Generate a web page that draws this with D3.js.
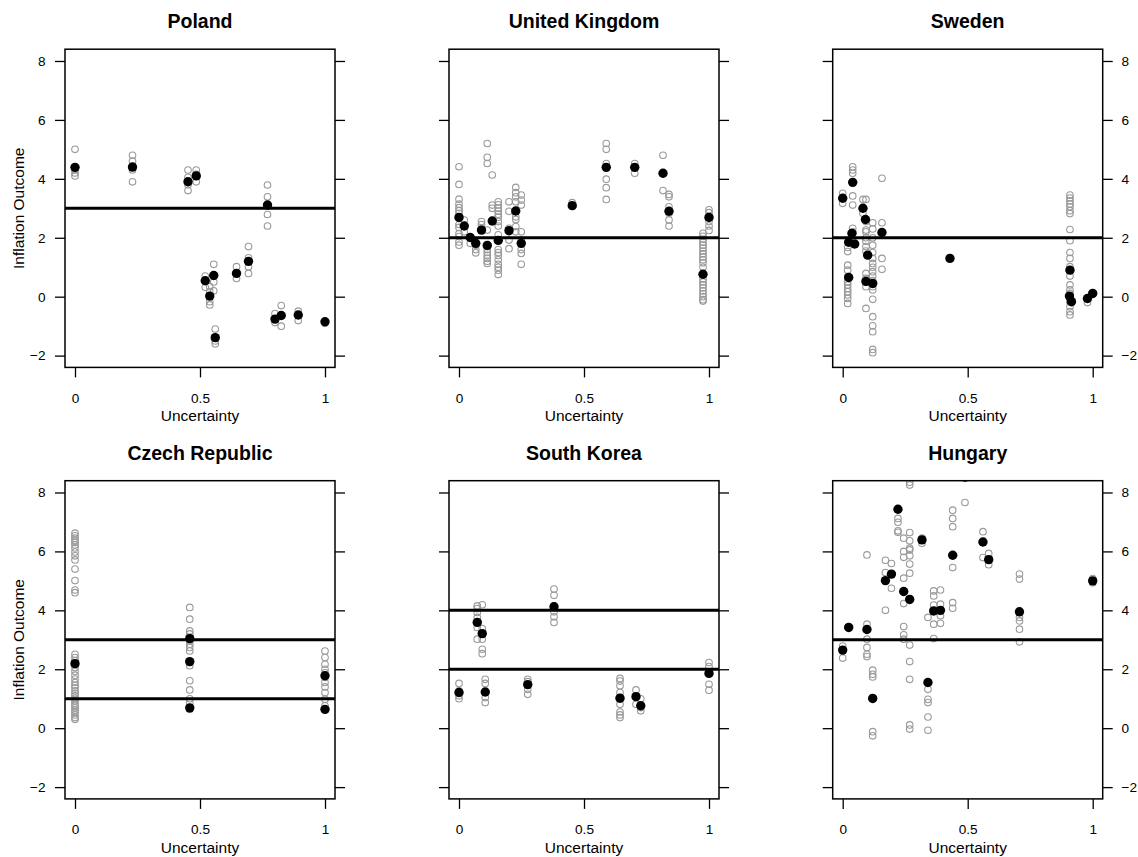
<!DOCTYPE html>
<html><head><meta charset="utf-8">
<script src="https://cdn.jsdelivr.net/npm/d3@7"></script>
<style>
body{margin:0;background:#fff}
svg{display:block}
text{font-family:"Liberation Sans",Arial,Helvetica,sans-serif;fill:#000}
</style></head>
<body><svg id="chart" width="1138" height="857"></svg>
<script>
// ---------------- data ----------------
const countries = ["Poland", "United Kingdom", "Sweden", "Czech Republic", "South Korea", "Hungary"];
const xTicks = [0, 0.5, 1];
const yTicks = [-2, 0, 2, 4, 6, 8];
const xLabel = "Uncertainty";
const yLabel = "Inflation Outcome";

// grey open circles: [uncertainty, [inflation values...]]
const polandGrey = [[0,[5.0,4.3,4.2,4.1]],[0.23,[4.8,4.6,4.3,3.9]],[0.452,[4.3,4.05,3.8,3.6]],[0.485,[4.3,4.15,3.9]],
  [0.521,[0.7,0.32]],[0.539,[0.34,0.17,-0.17,-0.28]],[0.555,[1.1,0.5,0.2]],[0.561,[-1.1,-1.5,-1.6]],
  [0.646,[1.02,0.62]],[0.694,[1.7,1.32,1.02,0.79]],[0.77,[3.79,3.39,2.79,2.4]],[0.8,[-0.57,-0.88]],
  [0.825,[-0.3,-1.0]],[0.893,[-0.49,-0.81]],[1,[-0.9]]];
const polandBlack = [[0,4.39],[0.23,4.4],[0.452,3.9],[0.485,4.1],[0.521,0.54],[0.539,0.02],[0.555,0.72],[0.561,-1.39],
  [0.646,0.79],[0.694,1.2],[0.77,3.11],[0.8,-0.76],[0.825,-0.64],[0.893,-0.62],[1,-0.85]];
const polandTargets = [3];

const ukGrey = [[0,[4.41,3.81,3.31,3.14,3.02,2.92,2.83,2.45,2.35,2.14,2.04,1.86,1.75]],[0.021,[2.6,2.2]],[0.045,[1.98,1.81]],
  [0.067,[1.75,1.6,1.49]],[0.09,[2.55,2.45,2.3]],[0.113,[5.2,4.73,4.52,2.26,1.7,1.6,1.5,1.4,1.3,1.2,1.13]],[0.133,[4.13,3.11,3.0]],
  [0.157,[3.22,3.12,3.0,2.9,2.8,2.7,2.55,2.4,2.1,1.6,1.5,1.4,1.25,1.1,1.0,0.9,0.75]],[0.2,[3.22,2.9,2.32,1.92,1.63]],
  [0.227,[3.71,3.53,3.39,3.22,2.71,2.62,2.38,2.2]],[0.249,[3.45,3.28,3.11,2.2,1.92,1.6,1.47,1.1]],[0.453,[3.19]],
  [0.589,[5.2,5.0,4.52,4.41,3.99,3.7,3.3]],[0.703,[4.52,4.19]],[0.816,[4.8,3.6]],[0.84,[3.47,3.39,3.05,2.83,2.6,2.4]],
  [0.976,[2.15,2.05,1.95,1.85,1.75,1.65,1.55,1.45,1.35,1.25,1.15,1.0,0.6,0.5,0.4,0.3,0.2,0.1,0.0,-0.1,-0.15]],
  [1,[2.95,2.85,2.7,2.55,2.4,2.25]]];
const ukBlack = [[0,2.69],[0.021,2.4],[0.045,2.01],[0.067,1.81],[0.09,2.26],[0.113,1.74],[0.133,2.57],[0.157,1.91],[0.2,2.24],
  [0.227,2.91],[0.249,1.81],[0.453,3.09],[0.589,4.39],[0.703,4.39],[0.816,4.19],[0.84,2.9],[0.976,0.76],[1,2.69]];
const ukTargets = [2];

const swedenGrey = [[0,[3.51,3.17]],[0.02,[1.67,1.53,1.07,0.9,0.68,0.51,0.4,0.28,0.17,0.06,-0.06,-0.23]],
  [0.04,[4.41,4.3,4.19,3.42,3.11,2.32,2.2]],[0.081,[3.3,2.83]],[0.093,[3.3,2.55,2.26,2.2,2.0,1.88,1.7,1.55,0.79,0.62,0.5,0.34,-0.4]],
  [0.12,[2.51,2.3,2.0,1.75,1.5,1.3,1.13,1.0,0.85,0.7,0.55,0.34,0.23,-0.09,-0.68,-0.99,-1.19,-1.79,-1.9]],
  [0.157,[4.02,2.51,1.3,0.93]],
  [0.909,[3.45,3.35,3.25,3.15,3.05,2.92,2.82,2.28,1.9,1.5,1.3,1.02,0.7,0.4,0.23,0.11,-0.06,-0.17,-0.34,-0.51,-0.62]],
  [0.979,[-0.2]],[1,[0.1]]];
const swedenBlack = [[0,3.34],[0.04,3.88],[0.081,3.0],[0.091,2.62],[0.037,2.15],[0.024,1.85],[0.048,1.79],[0.1,1.41],[0.157,2.18],
  [0.024,0.65],[0.093,0.52],[0.12,0.45],[0.429,1.3],[0.907,0.02],[0.915,-0.17],[0.909,0.9],[0.979,-0.06],[1,0.11]];
const swedenTargets = [2];

const czechGrey = [[0,[6.62,6.53,6.45,6.37,6.3,6.22,6.12,5.98,5.85,5.71,5.4,5.01,4.69,4.6,2.51,2.4,2.29,2.17,2.06,1.93,1.8,1.67,1.55,
    1.45,1.37,1.27,1.18,1.1,1.02,0.93,0.85,0.77,0.69,0.61,0.53,0.45,0.36,0.3]],
  [0.459,[4.1,3.7,3.3,3.2,3.08,2.96,2.85,2.74,2.62,2.12,1.61,1.3,1.0,0.87,0.64]],
  [1,[2.62,2.4,2.17,2.0,1.88,1.72,1.55,1.4,1.21,0.98,0.76,0.64]]];
const czechBlack = [[0,2.19],[0.459,3.04],[0.459,2.26],[0.459,0.69],[1,1.78],[1,0.64]];
const czechTargets = [3, 1];

const koreaGrey = [[0,[1.52,1.27,1.1,1.0]],[0.073,[4.15,4.06,3.93,3.76,3.42,3.02]],[0.093,[4.19,3.38,3.19,3.02,2.68,2.53]],
  [0.105,[1.66,1.52,1.04,0.87]],[0.275,[1.66,1.58,1.32,1.15]],[0.38,[4.72,4.51,4.15,3.95,3.78,3.59]],
  [0.644,[1.69,1.6,1.44,1.21,0.98,0.81,0.55,0.45,0.36]],[0.708,[1.3,0.81]],[0.727,[1.0,0.7,0.59]],[1,[2.23,2.09,1.49,1.29]]];
const koreaBlack = [[0,1.21],[0.073,3.59],[0.093,3.21],[0.105,1.23],[0.275,1.48],[0.38,4.12],[0.644,1.02],[0.708,1.07],[0.727,0.76],[1,1.86]];
const koreaTargets = [4, 2];

const hungaryGrey = [[0,[2.79,2.38]],[0.097,[5.88,3.53,3.02,2.74,2.51,2.43]],[0.12,[1.97,1.83,1.74,-0.12,-0.26]],
  [0.171,[5.7,5.28,4.0]],[0.195,[5.59,4.75]],[0.221,[8.55,7.12,6.99,6.7,6.65]],[0.244,[6.45,6.0,5.8,5.09,4.23,3.45,3.17,3.02]],
  [0.268,[8.35,8.25,6.64,6.36,6.11,6.05,5.85,5.57,5.26,2.82,2.26,1.66,0.11,-0.03]],[0.317,[6.45,6.28]],
  [0.341,[3.76,1.32,0.98,0.87,0.38,-0.07]],[0.364,[4.66,4.49,4.18,3.53,3.04]],[0.391,[4.69,4.21,3.82,3.56]],
  [0.44,[7.4,7.12,6.84,5.45,4.26,4.07]],[0.489,[7.66]],[0.561,[6.67,5.79]],[0.584,[5.93,5.55]],
  [0.707,[5.23,5.06,3.76,3.64,3.36,2.93]],[1,[5.08,4.94]]];
const hungaryBlack = [[0.024,3.42],[0,2.65],[0.097,3.35],[0.12,1.01],[0.171,5.01],[0.195,5.23],[0.221,7.43],[0.244,4.64],[0.268,4.37],
  [0.317,6.39],[0.341,1.55],[0.364,3.98],[0.391,4.0],[0.44,5.87],[0.561,6.32],[0.584,5.72],[0.707,3.95],[1,5.0],[0.489,8.52]];
const hungaryTargets = [3];

const greySets = [polandGrey, ukGrey, swedenGrey, czechGrey, koreaGrey, hungaryGrey];
const blackSets = [polandBlack, ukBlack, swedenBlack, czechBlack, koreaBlack, hungaryBlack];
const targetSets = [polandTargets, ukTargets, swedenTargets, czechTargets, koreaTargets, hungaryTargets];

// ---------------- layout ----------------
const colLeft = [65, 449, 832.7];
const rowTop = [49.2, 480.7];
const boxW = 270, boxH = 318.2;
const svg = d3.select("#chart");
const fmtY = d => d < 0 ? "\u2212" + (-d) : String(d);

countries.forEach((name, i) => {
  const col = i % 3, row = Math.floor(i / 3);
  const L = colLeft[col], T = rowTop[row];
  const x = d3.scaleLinear().domain([-0.04, 1.04]).range([L, L + boxW]);
  const y = d3.scaleLinear().domain([-2.4, 8.4]).range([T + boxH, T]);
  const g = svg.append("g");

  const clipId = "clip" + i;
  svg.append("clipPath").attr("id", clipId).append("rect")
    .attr("x", L).attr("y", T).attr("width", boxW).attr("height", boxH);
  const plot = g.append("g").attr("clip-path", `url(#${clipId})`);

  const grey = greySets[i].flatMap(([u, ys]) => ys.map(v => [u, v]));
  plot.selectAll("circle.g").data(grey).join("circle")
    .attr("cx", d => x(d[0])).attr("cy", d => y(d[1])).attr("r", 3.3)
    .attr("fill", "none").attr("stroke", "#9a9a9a").attr("stroke-width", 1.1);

  plot.selectAll("line.t").data(targetSets[i]).join("line")
    .attr("x1", L).attr("x2", L + boxW).attr("y1", d => y(d)).attr("y2", d => y(d))
    .attr("stroke", "#000").attr("stroke-width", 3);

  plot.selectAll("circle.b").data(blackSets[i]).join("circle")
    .attr("cx", d => x(d[0])).attr("cy", d => y(d[1])).attr("r", 4.7).attr("fill", "#000");

  // axes
  const ax = (axis, tx, ty) => {
    const a = g.append("g").attr("transform", `translate(${tx},${ty})`).call(axis);
    a.select(".domain").remove();
    a.selectAll(".tick line").attr("stroke", "#000").attr("stroke-width", 1.3);
    a.selectAll("text").attr("fill", "#000").style("font-size", "13.6px")
      .style("font-family", '"Liberation Sans",Arial,Helvetica,sans-serif');
    return a;
  };
  ax(d3.axisBottom(x).tickValues(xTicks).tickFormat(d => String(d)).tickSize(10).tickPadding(15.8), 0, T + boxH);
  ax(d3.axisLeft(y).tickValues(yTicks).tickFormat(col === 0 ? fmtY : () => "").tickSize(10).tickPadding(9.5), L, 0);
  ax(d3.axisRight(y).tickValues(yTicks).tickFormat(col === 2 ? fmtY : () => "").tickSize(10).tickPadding(8.8), L + boxW, 0);

  g.append("rect").attr("x", L).attr("y", T).attr("width", boxW).attr("height", boxH)
    .attr("fill", "none").attr("stroke", "#000").attr("stroke-width", 1.5);

  g.append("text").attr("x", L + boxW / 2).attr("y", T - 20.8).attr("text-anchor", "middle")
    .style("font-size", "19.5px").style("font-weight", "bold").text(name);

  g.append("text").attr("x", L + boxW / 2).attr("y", T + boxH + 53.6).attr("text-anchor", "middle")
    .style("font-size", "15.5px").text(xLabel);

  if (col === 0) {
    g.append("text").attr("transform", `translate(24.3,${T + boxH / 2}) rotate(-90)`)
      .attr("text-anchor", "middle").style("font-size", "15.5px").text(yLabel);
  }
});
</script></body></html>
